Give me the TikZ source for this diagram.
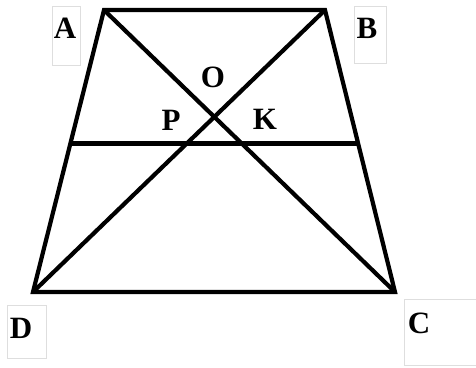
\documentclass[tikz,border=0pt]{standalone}
\usepackage{fontspec}
\setmainfont{Liberation Serif}
\usetikzlibrary{calc}
\begin{document}
\begin{tikzpicture}[x=1pt,y=-1pt,
  edge/.style={line width=4.2pt,line join=miter,black},
  lab/.style={font=\fontsize{31}{31}\selectfont\bfseries,inner sep=0pt,anchor=base},
  labbox/.style={draw=black!13,line width=0.8pt}]
\useasboundingbox (0,0) rectangle (476,367);
\fill[white] (0,0) rectangle (476,367);
% label boxes
\draw[labbox] (52,6) rectangle (80,65);
\draw[labbox] (354,6) rectangle (386,63);
\draw[labbox] (7,305) rectangle (46,358);
\draw[labbox] (476,299) -- (404,299) -- (404,365) -- (476,365);
% vertices
\coordinate (vA) at (104,10);
\coordinate (vB) at (325,10);
\coordinate (vC) at (395,292);
\coordinate (vD) at (33,292);
\coordinate (mL) at ($(vA)!0.4735!(vD)$);
\coordinate (mR) at ($(vB)!0.4735!(vC)$);
\draw[edge] (vA) -- (vB) -- (vC) -- (vD) -- cycle;
\draw[edge] (vA) -- (vC);
\draw[edge] (vB) -- (vD);
\draw[edge,line cap=butt] (mL) -- (mR);
% labels
\node[lab] (lA) at (65,38) {A};
\node[lab] (lB) at (367,38) {B};
\node[lab] (lO) at (213,87) {O};
\node[lab] (lP) at (171,130) {P};
\node[lab] (lK) at (265,129) {K};
\node[lab] (lD) at (21,338) {D};
\node[lab] (lC) at (419,333) {C};
\end{tikzpicture}
\end{document}
